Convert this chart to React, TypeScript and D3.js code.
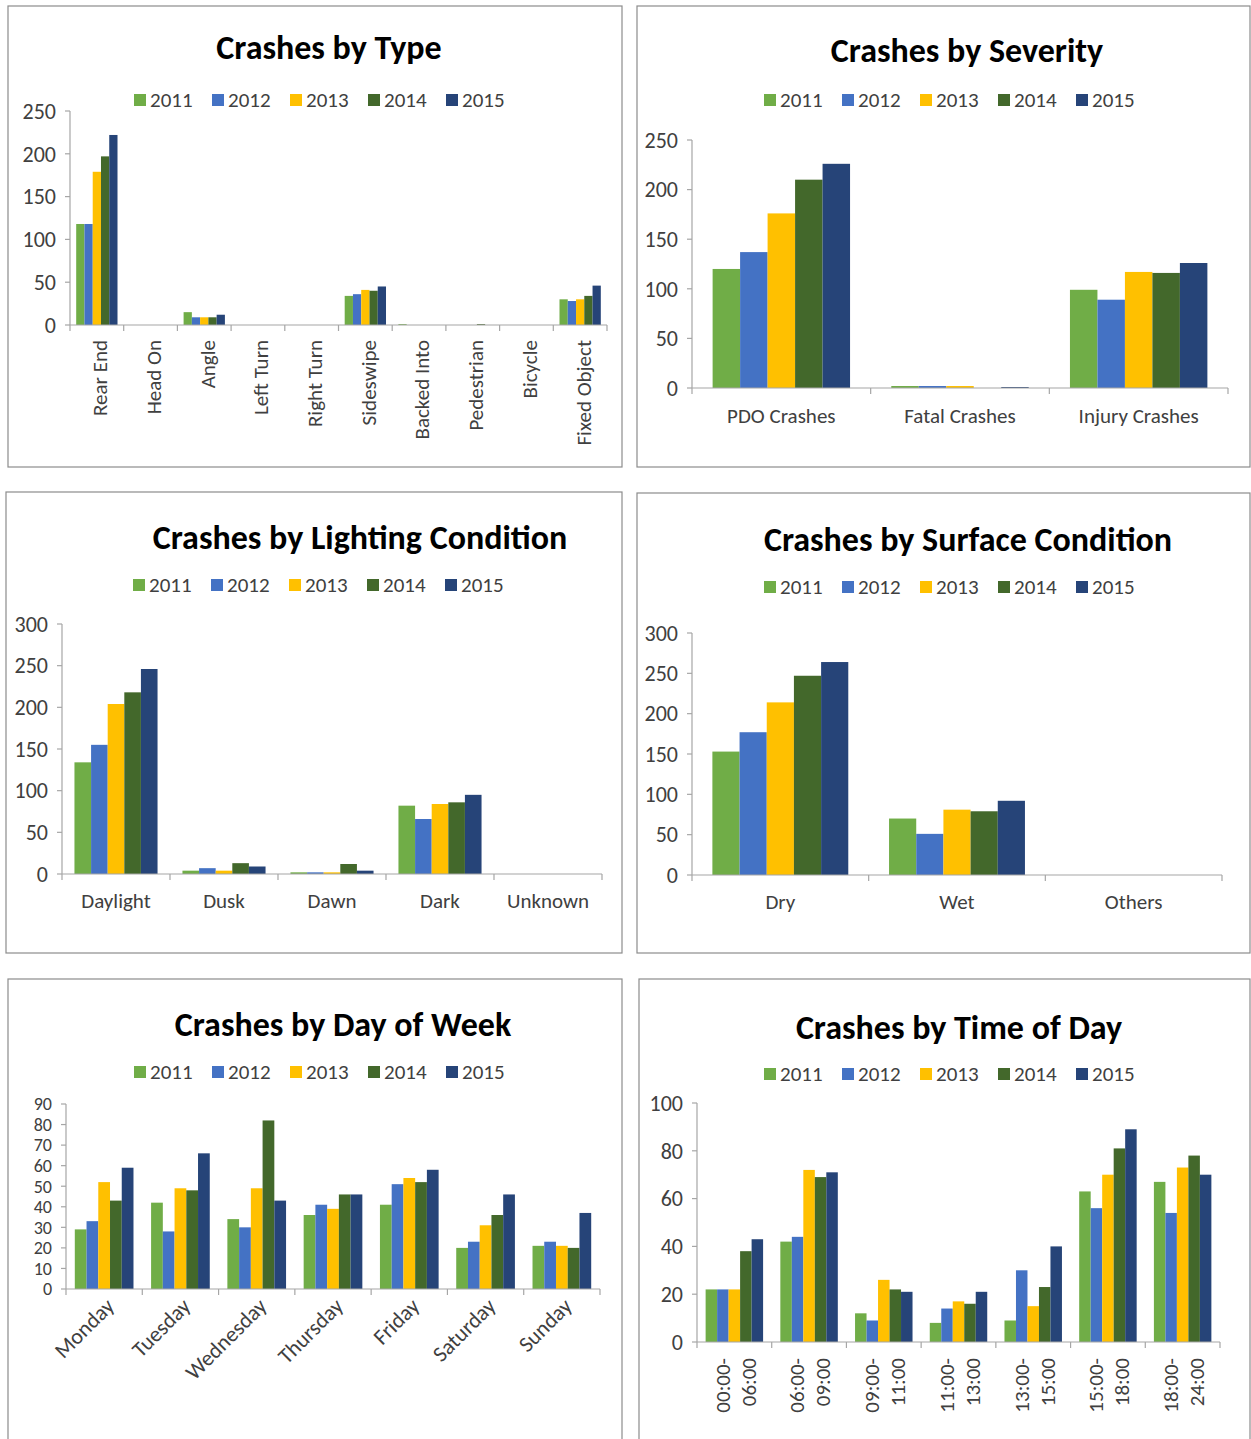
import React from 'react';
import * as d3 from 'd3';

// ==== data

const years = ['2011', '2012', '2013', '2014', '2015'];
const yearColors = ['#70AD47', '#4472C4', '#FFC000', '#43682B', '#264478'];

const typeCategories = ['Rear End', 'Head On', 'Angle', 'Left Turn', 'Right Turn', 'Sideswipe', 'Backed Into', 'Pedestrian', 'Bicycle', 'Fixed Object'];
const type2011 = [118, 0, 15, 0, 0, 34, 1, 0, 0, 30];
const type2012 = [118, 0, 9, 0, 0, 36, 0, 0, 0, 28];
const type2013 = [179, 0, 9, 0, 0, 41, 0, 0, 0, 30];
const type2014 = [197, 0, 9, 0, 0, 40, 0, 1, 0, 34];
const type2015 = [222, 0, 12, 0, 0, 45, 0, 0, 0, 46];
const typeTicks = [0, 50, 100, 150, 200, 250];

const severityCategories = ['PDO Crashes', 'Fatal Crashes', 'Injury Crashes'];
const severity2011 = [120, 2, 99];
const severity2012 = [137, 2, 89];
const severity2013 = [176, 2, 117];
const severity2014 = [210, 0, 116];
const severity2015 = [226, 1, 126];
const severityTicks = [0, 50, 100, 150, 200, 250];

const lightCategories = ['Daylight', 'Dusk', 'Dawn', 'Dark', 'Unknown'];
const light2011 = [134, 4, 2, 82, 0];
const light2012 = [155, 7, 2, 66, 0];
const light2013 = [204, 4, 2, 84, 0];
const light2014 = [218, 13, 12, 86, 0];
const light2015 = [246, 9, 4, 95, 0];
const lightTicks = [0, 50, 100, 150, 200, 250, 300];

const surfaceCategories = ['Dry', 'Wet', 'Others'];
const surface2011 = [153, 70, 0];
const surface2012 = [177, 51, 0];
const surface2013 = [214, 81, 0];
const surface2014 = [247, 79, 0];
const surface2015 = [264, 92, 0];
const surfaceTicks = [0, 50, 100, 150, 200, 250, 300];

const dayCategories = ['Monday', 'Tuesday', 'Wednesday', 'Thursday', 'Friday', 'Saturday', 'Sunday'];
const day2011 = [29, 42, 34, 36, 41, 20, 21];
const day2012 = [33, 28, 30, 41, 51, 23, 23];
const day2013 = [52, 49, 49, 39, 54, 31, 21];
const day2014 = [43, 48, 82, 46, 52, 36, 20];
const day2015 = [59, 66, 43, 46, 58, 46, 37];
const dayTicks = [0, 10, 20, 30, 40, 50, 60, 70, 80, 90];

const timeCategories = ['00:00- 06:00', '06:00- 09:00', '09:00- 11:00', '11:00- 13:00', '13:00- 15:00', '15:00- 18:00', '18:00- 24:00'];
const time2011 = [22, 42, 12, 8, 9, 63, 67];
const time2012 = [22, 44, 9, 14, 30, 56, 54];
const time2013 = [22, 72, 26, 17, 15, 70, 73];
const time2014 = [38, 69, 22, 16, 23, 81, 78];
const time2015 = [43, 71, 21, 21, 40, 89, 70];
const timeTicks = [0, 20, 40, 60, 80, 100];

// ====

const FONT = 'Carlito, Lato, "Open Sans", sans-serif';
const AXIS = '#a6a6a6';
const LABEL = 21;

function Legend({ x, y }) {
    return (
        <g transform={`translate(${x},${y})`}>
            {years.map((yr, i) => (
                <g key={yr} transform={`translate(${i * 78},0)`}>
                    <rect x={0} y={-6} width={12} height={12} fill={yearColors[i]} />
                    <text x={16} y={0} dy="0.35em" fontSize={LABEL} fill="#404040">{yr}</text>
                </g>
            ))}
        </g>
    );
}

function Panel(props) {
    const { box, title, titleX, titleY, legendX, legendY, categories, series, ticks,
        axisX, axisEnd, y0, yTop, labelMode, labelY, tickSize = LABEL + 1 } = props;

    const x = d3.scaleBand().domain(categories).range([axisX, axisEnd]).padding(0);
    const inner = d3.scaleBand().domain(years).range([0, x.bandwidth()]).paddingInner(0).paddingOuter(0.75);
    const y = d3.scaleLinear().domain([0, ticks[ticks.length - 1]]).range([y0, yTop]);

    const edges = categories.map((c) => x(c)).concat([axisEnd]);

    return (
        <g>
            <rect x={box[0]} y={box[1]} width={box[2]} height={box[3]} fill="#fff" stroke="#8c8c8c" strokeWidth={1.2} />
            <text x={titleX} y={titleY} textAnchor="middle" dy="0.35em" fontSize={34} fontWeight="bold" fill="#000">{title}</text>
            <Legend x={legendX} y={legendY} />

            {series.map((vals, si) => (
                <g key={years[si]} fill={yearColors[si]}>
                    {vals.map((v, ci) => (
                        <rect key={ci}
                            x={x(categories[ci]) + inner(years[si])}
                            y={y(v)}
                            width={inner.bandwidth()}
                            height={y0 - y(v)} />
                    ))}
                </g>
            ))}

            {/* y axis */}
            <line x1={axisX} x2={axisX} y1={yTop} y2={y0} stroke={AXIS} strokeWidth={1.2} />
            {ticks.map((t) => (
                <g key={t}>
                    <line x1={axisX - 5} x2={axisX} y1={y(t)} y2={y(t)} stroke={AXIS} strokeWidth={1.2} />
                    <text x={axisX - 14} y={y(t)} dy="0.35em" textAnchor="end" fontSize={tickSize} fill="#404040">{t}</text>
                </g>
            ))}

            {/* x axis */}
            <line x1={axisX} x2={axisEnd} y1={y0} y2={y0} stroke={AXIS} strokeWidth={1.2} />
            {edges.map((e, i) => (
                <line key={i} x1={e} x2={e} y1={y0} y2={y0 + 6} stroke={AXIS} strokeWidth={1.2} />
            ))}

            {categories.map((c) => {
                const cx = x(c) + x.bandwidth() / 2;
                if (labelMode === 'flat') {
                    return <text key={c} x={cx} y={labelY} dy="0.35em" textAnchor="middle" fontSize={LABEL} fill="#404040">{c}</text>;
                }
                if (labelMode === 'vertical') {
                    return (
                        <text key={c} transform={`translate(${cx + 3},${labelY}) rotate(-90)`} dy="0.35em"
                            textAnchor="end" fontSize={LABEL} fill="#404040">{c}</text>
                    );
                }
                if (labelMode === 'diagonal') {
                    return (
                        <text key={c} transform={`translate(${cx + 6},${labelY}) rotate(-45)`} dy="0.35em"
                            textAnchor="end" fontSize={LABEL + 1} fill="#404040">{c}</text>
                    );
                }
                const lines = c.split(' ');
                return (
                    <g key={c}>
                        {lines.map((ln, li) => (
                            <text key={li} transform={`translate(${cx - 12 + li * 26},${labelY}) rotate(-90)`} dy="0.35em"
                                textAnchor="end" fontSize={LABEL} fill="#404040">{ln}</text>
                        ))}
                    </g>
                );
            })}
        </g>
    );
}

export default function App() {
    return (
        <svg width={1251} height={1439} style={{ position: 'absolute', left: 0, top: 0, fontFamily: FONT }}>
            <rect width={1251} height={1439} fill="#fff" />
            <Panel box={[8, 6, 614, 461]} title="Crashes by Type" titleX={329} titleY={47}
                legendX={134} legendY={100}
                categories={typeCategories}
                series={[type2011, type2012, type2013, type2014, type2015]}
                ticks={typeTicks} axisX={70} axisEnd={607} y0={325} yTop={111}
                labelMode="vertical" labelY={340} />
            <Panel box={[637, 6, 613, 461]} title="Crashes by Severity" titleX={967} titleY={50}
                legendX={764} legendY={100}
                categories={severityCategories}
                series={[severity2011, severity2012, severity2013, severity2014, severity2015]}
                ticks={severityTicks} axisX={692} axisEnd={1228} y0={388} yTop={140}
                labelMode="flat" labelY={416} />
            <Panel box={[6, 492, 616, 461]} title="Crashes by Lighting Condition" titleX={360} titleY={537}
                legendX={133} legendY={585}
                categories={lightCategories}
                series={[light2011, light2012, light2013, light2014, light2015]}
                ticks={lightTicks} axisX={62} axisEnd={602} y0={874} yTop={624}
                labelMode="flat" labelY={901} />
            <Panel box={[637, 493, 613, 460]} title="Crashes by Surface Condition" titleX={968} titleY={539}
                legendX={764} legendY={587}
                categories={surfaceCategories}
                series={[surface2011, surface2012, surface2013, surface2014, surface2015]}
                ticks={surfaceTicks} axisX={692} axisEnd={1222} y0={875} yTop={633}
                labelMode="flat" labelY={902} />
            <Panel box={[8, 979, 614, 470]} title="Crashes by Day of Week" titleX={343} titleY={1024}
                legendX={134} legendY={1072}
                categories={dayCategories}
                series={[day2011, day2012, day2013, day2014, day2015]}
                ticks={dayTicks} axisX={66} axisEnd={600} y0={1289} yTop={1104}
                labelMode="diagonal" labelY={1302} tickSize={18} />
            <Panel box={[639, 979, 611, 470]} title="Crashes by Time of Day" titleX={959} titleY={1027}
                legendX={764} legendY={1074}
                categories={timeCategories}
                series={[time2011, time2012, time2013, time2014, time2015]}
                ticks={timeTicks} axisX={697} axisEnd={1220} y0={1342} yTop={1103}
                labelMode="twoline" labelY={1358} />
        </svg>
    );
}
